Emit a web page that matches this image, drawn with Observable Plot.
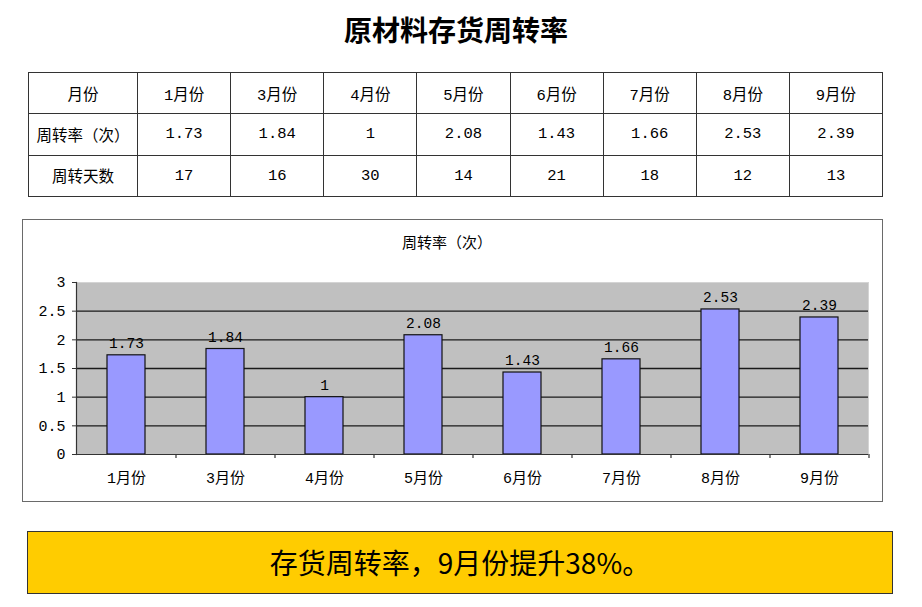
<!DOCTYPE html>
<html>
<head>
<meta charset="utf-8">
<script src="https://cdn.jsdelivr.net/npm/d3@7"></script>
<script src="https://cdn.jsdelivr.net/npm/@observablehq/plot@0.6"></script>
<style>
  html, body { margin: 0; padding: 0; background: #fff; }
  #page { position: relative; width: 922px; height: 607px; overflow: hidden; background: #fff; }
  #title { position: absolute; left: 0; top: 12px; width: 912px; text-align: center;
    font-family: "Noto Sans CJK SC", sans-serif; font-weight: bold; font-size: 28px; line-height: 34px; color: #000; }
  #tbl { position: absolute; left: 28px; top: 72px; width: 855px; height: 125px; border-collapse: collapse;
    font-family: "Liberation Mono", "Noto Sans CJK SC", monospace; font-size: 15.5px; color: #000; table-layout: fixed; }
  #tbl td { border: 1px solid #333; text-align: center; padding: 0; height: 40px; }
  #chartbox { position: absolute; left: 22px; top: 219px; width: 861px; height: 283px;
    outline: 1px solid #6a6a6a; outline-offset: -1px; }
  #charttitle { position: absolute; left: 0; top: 12px; width: 850px; text-align: center;
    font-family: "Noto Sans CJK SC", sans-serif; font-size: 15px; line-height: 22px; color: #000; }
  #chart { position: absolute; left: 0; top: 0; }
  #note { position: absolute; left: 27px; top: 531px; width: 866px; height: 63px; box-sizing: border-box;
    background: #ffcc00; border: 1px solid #333; text-align: center;
    font-family: "Noto Sans CJK SC", sans-serif; font-size: 28px; line-height: 60px; color: #000; }
</style>
</head>
<body>
<div id="page">
  <div id="title"></div>
  <table id="tbl"></table>
  <div id="chartbox">
    <div id="chart"></div>
    <div id="charttitle"></div>
  </div>
  <div id="note"></div>
</div>
<script>
const pageTitle = "原材料存货周转率";
const chartTitle = "周转率（次）";
const noteText = "存货周转率，9月份提升38%。";
const rowHeaders = ["月份", "周转率（次）", "周转天数"];
const months = ["1月份", "3月份", "4月份", "5月份", "6月份", "7月份", "8月份", "9月份"];
const rates = [1.73, 1.84, 1, 2.08, 1.43, 1.66, 2.53, 2.39];
const rateLabels = ["1.73", "1.84", "1", "2.08", "1.43", "1.66", "2.53", "2.39"];
const days = [17, 16, 30, 14, 21, 18, 12, 13];
const yTicks = [0, 0.5, 1, 1.5, 2, 2.5, 3];

document.getElementById("title").textContent = pageTitle;
document.getElementById("charttitle").textContent = chartTitle;
document.getElementById("note").textContent = noteText;

// table
const tbl = document.getElementById("tbl");
const colgroup = document.createElement("colgroup");
const c0 = document.createElement("col"); c0.style.width = "109px"; colgroup.appendChild(c0);
months.forEach(() => { const c = document.createElement("col"); colgroup.appendChild(c); });
tbl.appendChild(colgroup);
const rows = [months, rateLabels, days.map(String)];
rows.forEach((vals, r) => {
  const tr = document.createElement("tr");
  const th = document.createElement("td"); th.textContent = rowHeaders[r]; tr.appendChild(th);
  vals.forEach(v => { const td = document.createElement("td"); td.textContent = v; tr.appendChild(td); });
  tbl.appendChild(tr);
});

// chart
const W = 861, H = 283, mL = 54, mR = 15, mT = 63, mB = 48;
const step = (W - mL - mR) / months.length;
const data = months.map((m, i) => ({month: m, rate: rates[i], label: rateLabels[i]}));

const chart = Plot.plot({
  width: W, height: H,
  marginLeft: mL, marginRight: mR, marginTop: mT, marginBottom: mB,
  style: {fontFamily: "'Liberation Mono', 'Noto Sans CJK SC', monospace", fontSize: "15px", color: "#000", background: "transparent", overflow: "visible"},
  x: {domain: months, paddingInner: 0.62, paddingOuter: 0.31, label: null},
  y: {domain: [0, 3], label: null},
  marks: [
    Plot.frame({fill: "#c0c0c0", stroke: "#d4d4d4"}),
    Plot.ruleY(yTicks.filter(v => v > 0 && v < 3), {stroke: "#1a1a1a", strokeWidth: 1.3}),
    Plot.barY(data, {x: "month", y: "rate", fill: "#9999ff", stroke: "#111", strokeWidth: 1.2}),
    Plot.text(data, {x: "month", y: "rate", text: "label", dy: -12, fontSize: 14.5, fill: "#000"}),
    Plot.ruleX(months, {x: d => d, dx: step / 2, y1: 0, y2: -0.07, stroke: "#333", strokeWidth: 1.2}),
    Plot.ruleY([0], {stroke: "#333", strokeWidth: 1.2}),
    Plot.frame({anchor: "left", stroke: "#333", strokeWidth: 1.2}),
    Plot.axisY({ticks: yTicks, tickSize: 4, tickPadding: 7, tickFormat: d => String(d), fontSize: 15, stroke: "#333"}),
    Plot.axisX({tickSize: 0, tickPadding: 18, fontSize: 15})
  ]
});
document.getElementById("chart").appendChild(chart);
</script>
</body>
</html>
